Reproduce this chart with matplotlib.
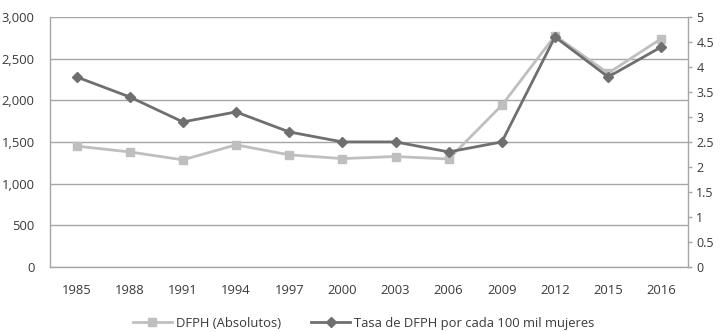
import numpy as np
import matplotlib.pyplot as plt
from matplotlib.ticker import FuncFormatter, MultipleLocator

plt.rcParams['font.family'] = ['Open Sans', 'DejaVu Sans']

years = ['1985', '1988', '1991', '1994', '1997', '2000', '2003', '2006', '2009', '2012', '2015', '2016']
dfph_abs = [1450, 1380, 1285, 1465, 1345, 1300, 1325, 1295, 1940, 2775, 2325, 2740]
tasa = [3.8, 3.4, 2.9, 3.1, 2.7, 2.5, 2.5, 2.3, 2.5, 4.6, 3.8, 4.4]

light = '#BFBFBF'
dark = '#6F6F6F'
axis_col = '#A6A6A6'
txt = '#3A3A3A'

fig = plt.figure(figsize=(7.2, 3.32), dpi=100)
ax = fig.add_axes([0.0694, 0.196, 0.886, 0.753])
ax2 = ax.twinx()

x = np.arange(len(years))
l1, = ax.plot(x, dfph_abs, color=light, lw=2, marker='s', markersize=6, zorder=3)
l2, = ax2.plot(x, tasa, color=dark, lw=2, marker='D', markersize=5, zorder=4)

ax.set_xlim(-0.5, len(years) - 0.5)
ax.set_ylim(0, 3000)
ax2.set_ylim(0, 5)
ax.yaxis.set_major_locator(MultipleLocator(500))
ax2.yaxis.set_major_locator(MultipleLocator(0.5))
ax.yaxis.set_major_formatter(FuncFormatter(lambda v, p: f'{int(v):,}'))
ax2.yaxis.set_major_formatter(FuncFormatter(lambda v, p: f'{v:g}'))
ax.set_xticks(x)
ax.set_xticklabels(years)

ax.grid(axis='y', color=axis_col, lw=1)
ax.set_axisbelow(True)

for a in (ax, ax2):
    a.spines['top'].set_visible(False)
    for s in ('left', 'right', 'bottom'):
        a.spines[s].set_color(axis_col)
        a.spines[s].set_linewidth(1)
ax.spines['right'].set_visible(False)
ax2.spines['left'].set_visible(False)
ax2.spines['bottom'].set_visible(False)

ax.tick_params(axis='y', length=0, pad=11, labelsize=9.4, colors=txt)
ax.tick_params(axis='x', length=0, pad=12, labelsize=9.4, colors=txt)
ax2.tick_params(axis='y', length=3, width=1, color=axis_col, pad=3, labelsize=9, labelcolor=txt)

fig.legend([l1, l2], ['DFPH (Absolutos)', 'Tasa de DFPH por cada 100 mil mujeres'],
           loc='center', bbox_to_anchor=(0.505, 0.026), ncol=2, frameon=False,
           fontsize=9.4, handlelength=3, columnspacing=2.3, handletextpad=0.3,
           labelcolor=txt)

fig.savefig('out.png', dpi=100)
